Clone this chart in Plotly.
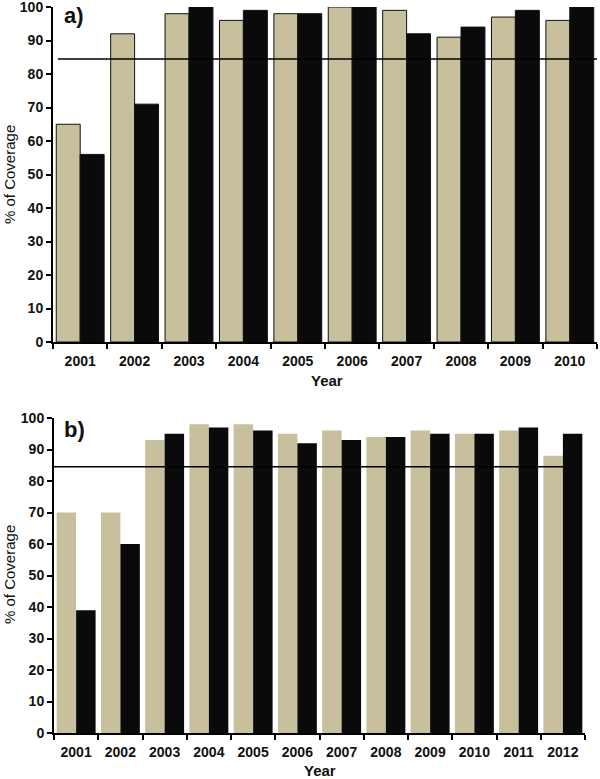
import plotly.graph_objects as go

years_a = ["2001", "2002", "2003", "2004", "2005", "2006", "2007", "2008", "2009", "2010"]
tan_a = [65, 92, 98, 96, 98, 100, 99, 91, 97, 96]
black_a = [56, 71, 100, 99, 98, 100, 92, 94, 99, 100]

years_b = ["2001", "2002", "2003", "2004", "2005", "2006", "2007", "2008", "2009", "2010", "2011", "2012"]
tan_b = [70, 70, 93, 98, 98, 95, 96, 94, 96, 95, 96, 88]
black_b = [39, 60, 95, 97, 96, 92, 93, 94, 95, 95, 97, 95]

target = 84.5
y_ticks = [0, 10, 20, 30, 40, 50, 60, 70, 80, 90, 100]

TAN = "#C8C09C"
BLK = "#0A0A0A"
FONT = "Arial, Liberation Sans, sans-serif"
W, H = 600, 779
TOP = 7  # top margin in px

fig = go.Figure()
fig.add_trace(go.Bar(x=years_a, y=tan_a, marker=dict(color=TAN, line=dict(color="#111", width=1)),
                     xaxis="x", yaxis="y", showlegend=False))
fig.add_trace(go.Bar(x=years_a, y=black_a, marker=dict(color=BLK, line=dict(color="#111", width=1)),
                     xaxis="x", yaxis="y", showlegend=False))
fig.add_trace(go.Bar(x=years_b, y=tan_b, marker=dict(color=TAN, line=dict(width=0)),
                     xaxis="x2", yaxis="y2", showlegend=False))
fig.add_trace(go.Bar(x=years_b, y=black_b, marker=dict(color=BLK, line=dict(width=0)),
                     xaxis="x2", yaxis="y2", showlegend=False))

tickfont = dict(family=FONT, size=14, color="#111", weight="bold")
xcommon = dict(type="category", showline=True, linecolor="black", linewidth=2,
               ticks="outside", tickson="boundaries", ticklen=5, tickwidth=2, tickcolor="black",
               tickfont=tickfont, showgrid=False, zeroline=False, automargin=False,
               ticklabeloverflow="allow", ticklabelstandoff=5)
ycommon = dict(range=[0, 100], tickmode="array", tickvals=y_ticks, ticktext=[str(v) for v in y_ticks],
               showline=True, linecolor="black", linewidth=2,
               ticks="outside", ticklen=5, tickwidth=2, tickcolor="black",
               tickfont=tickfont, showgrid=False, zeroline=False, automargin=False,
               ticklabeloverflow="allow")

def px(v):
    return v / W

def py(v):
    return 1 - (v - TOP) / (H - TOP)

fig.update_layout(
    width=W, height=H,
    margin=dict(l=0, r=0, t=TOP, b=0),
    paper_bgcolor="white", plot_bgcolor="white",
    barmode="group", bargap=0.12, bargroupgap=0,
    xaxis=dict(domain=[px(53), px(597)], anchor="y", **xcommon),
    yaxis=dict(domain=[py(342), 1.0], anchor="x", **ycommon),
    xaxis2=dict(domain=[px(54), px(585)], anchor="y2", **xcommon),
    yaxis2=dict(domain=[py(733), py(418)], anchor="x2", **ycommon),
    font=dict(family=FONT, color="#111"),
)

fig.add_shape(type="line", xref="x domain", yref="y", x0=0.009, x1=1.0, y0=target, y1=target,
              line=dict(color="black", width=1.5))
fig.add_shape(type="line", xref="x2 domain", yref="y2", x0=0.0, x1=0.959, y0=target, y1=target,
              line=dict(color="black", width=1.5))

ann = []
ann.append(dict(text="<b>a)</b>", x=px(62), y=py(15), xref="paper", yref="paper",
                xanchor="left", yanchor="middle", showarrow=False, font=dict(family=FONT, size=22)))
ann.append(dict(text="<b>b)</b>", x=px(62), y=py(429), xref="paper", yref="paper",
                xanchor="left", yanchor="middle", showarrow=False, font=dict(family=FONT, size=22)))
ann.append(dict(text="% of Coverage", x=px(9), y=py(175), xref="paper", yref="paper", textangle=-90,
                xanchor="center", yanchor="middle", showarrow=False, font=dict(family=FONT, size=15)))
ann.append(dict(text="% of Coverage", x=px(9), y=py(575), xref="paper", yref="paper", textangle=-90,
                xanchor="center", yanchor="middle", showarrow=False, font=dict(family=FONT, size=15)))
ann.append(dict(text="<b>Year</b>", x=px(327), y=py(381), xref="paper", yref="paper",
                xanchor="center", yanchor="middle", showarrow=False, font=dict(family=FONT, size=15)))
ann.append(dict(text="<b>Year</b>", x=px(320), y=py(770), xref="paper", yref="paper",
                xanchor="center", yanchor="middle", showarrow=False, font=dict(family=FONT, size=15)))
fig.update_layout(annotations=ann)

fig.write_html("out.html", config={"displayModeBar": False},
               post_script="document.body.style.margin='0';document.body.style.overflow='hidden';")
